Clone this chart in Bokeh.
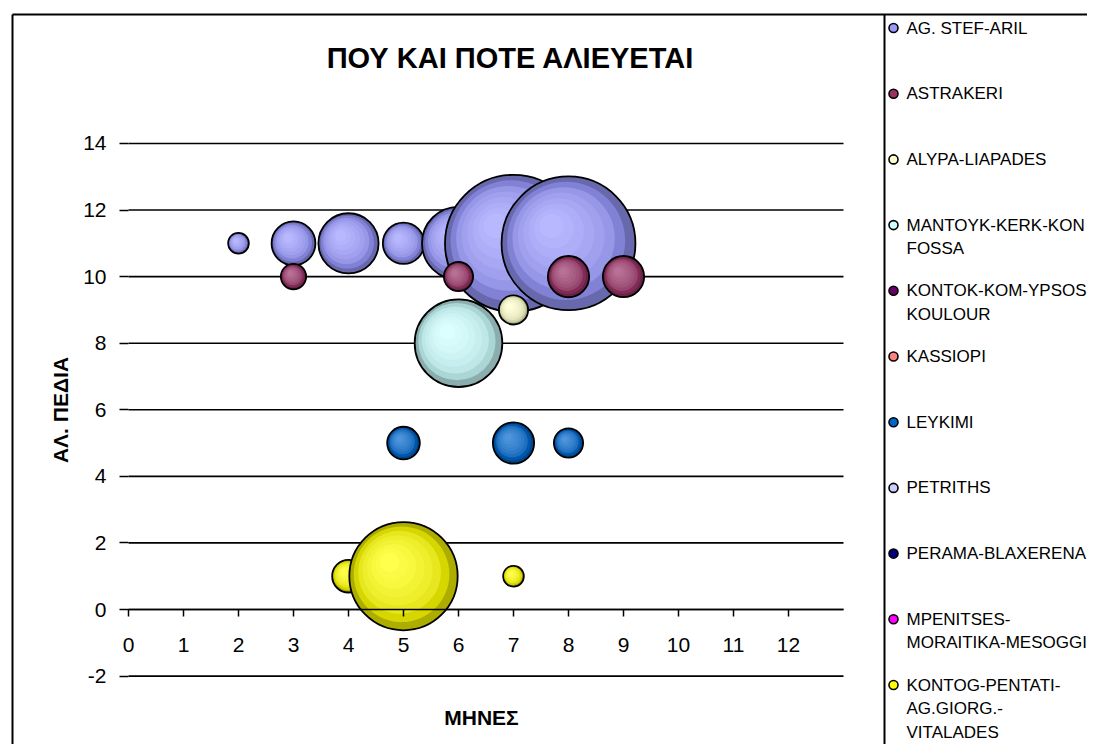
import numpy as np
from bokeh.plotting import figure
from bokeh.models import Range1d, FixedTicker, ColumnDataSource
from bokeh.core.properties import value
from bokeh.embed import file_html
from bokeh.resources import INLINE

# ---------------- data ----------------
TITLE = "ΠΟΥ ΚΑΙ ΠΟΤΕ ΑΛΙΕΥΕΤΑΙ"
X_TITLE = "ΜΗΝΕΣ"
Y_TITLE = "ΑΛ. ΠΕΔΙΑ"

x_ticks = [0, 1, 2, 3, 4, 5, 6, 7, 8, 9, 10, 11, 12]
y_ticks = [-2, 0, 2, 4, 6, 8, 10, 12, 14]

series_names = [
    "AG. STEF-ARIL",
    "ASTRAKERI",
    "ALYPA-LIAPADES",
    "MANTOYK-KERK-KON\nFOSSA",
    "KONTOK-KOM-YPSOS\nKOULOUR",
    "KASSIOPI",
    "LEYKIMI",
    "PETRITHS",
    "PERAMA-BLAXERENA",
    "MPENITSES-\nMORAITIKA-MESOGGI",
    "KONTOG-PENTATI-\nAG.GIORG.-\nVITALADES",
]
series_colors = ["#9999FF", "#993366", "#FFFFCC", "#CCFFFF", "#660066", "#FF8080",
                 "#0066CC", "#CCCCFF", "#000080", "#FF00FF", "#FFFF00"]

# month (x), fishing field (y), bubble size
ag_x = [2, 3, 4, 5, 6, 7, 8]
ag_y = [11, 11, 11, 11, 11, 11, 11]
ag_s = [1, 4.5, 8.5, 4, 12.5, 44, 42]

astr_x = [3, 6, 8, 9]
astr_y = [10, 10, 10, 10]
astr_s = [1.5, 2, 4, 4]

alypa_x = [7]
alypa_y = [9]
alypa_s = [2]

mant_x = [6]
mant_y = [8]
mant_s = [18]

kontok_x, kontok_y, kontok_s = [], [], []
kass_x, kass_y, kass_s = [], [], []

leyk_x = [5, 7, 8]
leyk_y = [5, 5, 5]
leyk_s = [2.5, 4, 2]

petr_x, petr_y, petr_s = [], [], []
perama_x, perama_y, perama_s = [], [], []
mpen_x, mpen_y, mpen_s = [], [], []

kontog_x = [4, 5, 7]
kontog_y = [1, 1, 1]
kontog_s = [2.5, 27.5, 1]

series_data = [
    (ag_x, ag_y, ag_s), (astr_x, astr_y, astr_s), (alypa_x, alypa_y, alypa_s),
    (mant_x, mant_y, mant_s), (kontok_x, kontok_y, kontok_s), (kass_x, kass_y, kass_s),
    (leyk_x, leyk_y, leyk_s), (petr_x, petr_y, petr_s), (perama_x, perama_y, perama_s),
    (mpen_x, mpen_y, mpen_s), (kontog_x, kontog_y, kontog_s),
]

# ---------------- layout ----------------
W, H = 1087, 744
X0_PX = 128.0      # canvas px of month 0
X_PX_PER = 55.0
Y0_PX = 609.0      # canvas px (from top) of value 0
Y_PX_PER = 33.29
X_MAX = 13

x_start = -X0_PX / X_PX_PER
x_end = (W - X0_PX) / X_PX_PER
y_end = Y0_PX / Y_PX_PER
y_start = -(H - Y0_PX) / Y_PX_PER


def cx(px):  # canvas px -> data x
    return (px - X0_PX) / X_PX_PER


def cy(py):  # canvas px -> data y
    return (Y0_PX - py) / Y_PX_PER


FONT = "Liberation Sans"

p = figure(width=W, height=H, x_range=Range1d(x_start, x_end), y_range=Range1d(y_start, y_end),
           output_backend="svg", toolbar_location=None, min_border=0)
p.title.visible = False
p.outline_line_color = None
p.background_fill_color = "white"
p.border_fill_color = "white"
p.xgrid.visible = False
p.ygrid.visible = False

# axes placed at the data origin
xa = p.xaxis[0]
xa.fixed_location = 0
xa.ticker = FixedTicker(ticks=x_ticks)
xa.bounds = (0, X_MAX)
xa.axis_line_color = "black"
xa.axis_line_width = 1.5
xa.major_tick_in = 0
xa.major_tick_out = 7
xa.major_tick_line_width = 1.5
xa.minor_tick_line_color = None
xa.major_label_standoff = 21
xa.major_label_text_font = FONT
xa.major_label_text_font_size = "21px"
xa.major_label_text_color = "black"

ya = p.yaxis[0]
ya.fixed_location = 0
ya.ticker = FixedTicker(ticks=y_ticks)
ya.bounds = (y_ticks[0], y_ticks[-1])
ya.axis_line_color = None
ya.major_tick_in = 0
ya.major_tick_out = 9
ya.major_tick_line_width = 1.5
ya.minor_tick_line_color = None
ya.major_label_standoff = 13
ya.major_label_text_font = FONT
ya.major_label_text_font_size = "21px"
ya.major_label_text_color = "black"
ya.major_label_overrides = {t: str(t) for t in y_ticks}
ya.axis_label = Y_TITLE
ya.axis_label_text_font = FONT
ya.axis_label_text_font_size = "21px"
ya.axis_label_text_font_style = "bold"
ya.axis_label_text_color = "black"
ya.axis_label_standoff = 8

# horizontal gridlines across the plot area
p.segment(x0=[0] * len(y_ticks), x1=[X_MAX] * len(y_ticks), y0=y_ticks, y1=y_ticks,
          line_color="black", line_width=1.6)

# ---------------- bubbles (3-D shaded) ----------------
S_MAX = max(max(s) for _, _, s in series_data if s)
R_MAX = 68.5
N_LAYERS = 8


def hex_rgb(h):
    h = h.lstrip("#")
    return np.array([int(h[i:i + 2], 16) for i in (0, 2, 4)], dtype=float)


def rgb_hex(c):
    c = np.clip(np.round(c), 0, 255).astype(int)
    return "#%02x%02x%02x" % tuple(c)


rows = dict(x=[], y=[], size=[], fill=[], lalpha=[])
for (xs, ys, ss), col in zip(series_data, series_colors):
    base = hex_rgb(col)
    rim = base * 0.68
    body = base * 0.84
    light = base + (255 - base) * 0.3
    for xv, yv, sv in zip(xs, ys, ss):
        R = R_MAX * np.sqrt(sv / S_MAX)
        for k in range(N_LAYERS):
            t = k / (N_LAYERS - 1)
            r = R * (1 - 0.82 * t)
            d = 0.36 * R * t
            off = d / np.sqrt(2)
            rows["x"].append(xv - off / X_PX_PER)
            rows["y"].append(yv + off / Y_PX_PER)
            rows["size"].append(2 * r)
            if k == 0:
                c = rim
            else:
                m = (t - 1 / (N_LAYERS - 1)) / (1 - 1 / (N_LAYERS - 1))
                c = body + (light - body) * np.sqrt(m)
            rows["fill"].append(rgb_hex(c))
            rows["lalpha"].append(1.0 if k == 0 else 0.0)

src = ColumnDataSource(rows)
p.scatter(x="x", y="y", size="size", source=src, marker="circle", fill_color="fill",
          line_color="black", line_alpha="lalpha", line_width=1.8)

# ---------------- titles ----------------
p.text(x=[cx(510)], y=[cy(57)], text=[TITLE], text_font=value(FONT), text_font_size="29px",
       text_font_style="bold", text_align="center", text_baseline="middle", text_color="black")
p.text(x=[cx(481)], y=[cy(717)], text=[X_TITLE], text_font=value(FONT), text_font_size="21px",
       text_font_style="bold", text_align="center", text_baseline="middle", text_color="black")

# ---------------- chart / legend frames ----------------
p.segment(x0=[cx(12), cx(12), cx(884)], y0=[cy(14), cy(14), cy(14)],
          x1=[cx(12), cx(1100), cx(884)], y1=[cy(760), cy(14), cy(750)],
          line_color="black", line_width=2)

# ---------------- legend ----------------
LEG_Y0 = 27.5
LEG_STEP = 65.7
LINE_STEP = 23.5
mk_x, mk_y, mk_c = [], [], []
tx, ty, tt = [], [], []
for i, (name, col) in enumerate(zip(series_names, series_colors)):
    yy = LEG_Y0 + LEG_STEP * i
    mk_x.append(cx(893))
    mk_y.append(cy(yy))
    mk_c.append(col)
    for j, line in enumerate(name.split("\n")):
        tx.append(cx(906))
        ty.append(cy(yy + LINE_STEP * j))
        tt.append(line)
p.scatter(x=mk_x, y=mk_y, size=9, marker="circle", fill_color=mk_c, line_color="black", line_width=1.6)
p.text(x=tx, y=ty, text=tt, text_font=value(FONT), text_font_size="17px", text_align="left",
       text_baseline="middle", text_color="black")

open("out.html", "w").write(file_html(p, INLINE))
